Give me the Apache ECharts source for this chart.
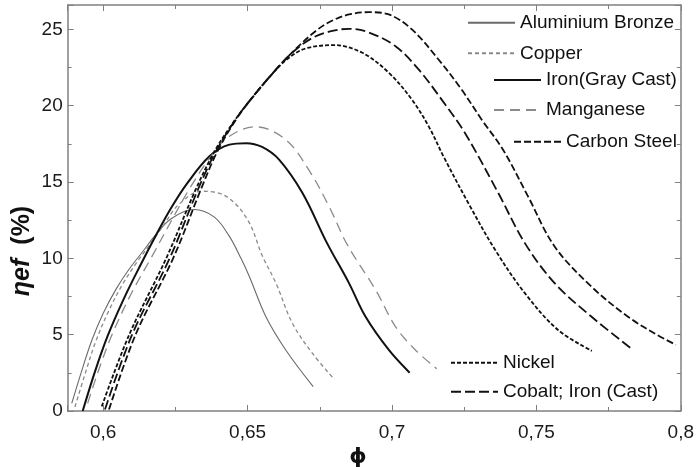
<!DOCTYPE html>
<html>
<head>
<meta charset="utf-8">
<script src="https://cdn.jsdelivr.net/npm/echarts@6/dist/echarts.min.js"></script>
<style>
  html, body { margin: 0; padding: 0; background: #fff; }
  #chart { width: 697px; height: 467px; }
</style>
</head>
<body>
<div id="chart"></div>
<script>
// curves, [phi, eta_ef %]
const alBronze = [
  [0.5891, 0.5], [0.5925, 2.6], [0.596, 4.6], [0.6, 6.4], [0.6045, 8.0], [0.609, 9.3],
  [0.6135, 10.4], [0.618, 11.5], [0.6235, 12.6], [0.6315, 13.2], [0.6385, 12.7],
  [0.6437, 11.44], [0.6477, 10.0], [0.6506, 8.81], [0.6563, 6.19], [0.6632, 4.0], [0.6727, 1.6]
];
const copper = [
  [0.5902, 0.26], [0.5935, 2.3], [0.5975, 4.6], [0.602, 6.6], [0.607, 8.4], [0.6115, 9.7],
  [0.6165, 11.0], [0.621, 12.2], [0.626, 13.5], [0.634, 14.4], [0.6426, 14.06],
  [0.65, 12.53], [0.6552, 10.12], [0.6598, 8.38], [0.6655, 5.75], [0.6724, 3.79], [0.6799, 2.1]
];
const ironGray = [
  [0.5929, 0], [0.597, 2.5], [0.6015, 4.9], [0.607, 7.3], [0.613, 9.6], [0.6185, 11.6],
  [0.6235, 13.3], [0.629, 14.9], [0.6368, 16.69], [0.6437, 17.45], [0.6495, 17.55],
  [0.655, 17.3], [0.6609, 16.47], [0.669, 14.28], [0.6775, 11.0], [0.6851, 8.38],
  [0.6908, 6.19], [0.6989, 4.0], [0.7061, 2.51]
];
const manganese = [
  [0.5946, 0.5], [0.599, 3], [0.6035, 5.2], [0.61, 7.8], [0.6165, 10], [0.624, 12.6],
  [0.63, 14.6], [0.637, 16.6], [0.6437, 18.0], [0.6527, 18.62], [0.6632, 17.78],
  [0.6715, 15.7], [0.6782, 13.4], [0.6845, 10.9], [0.6943, 7.94], [0.7012, 5.53],
  [0.7081, 4.0], [0.7155, 2.76]
];
const carbonSteel = [
  [0.602, 0.1], [0.6112, 5], [0.6242, 10], [0.634, 14.6], [0.6395, 17.0], [0.646, 19.1],
  [0.6515, 20.5], [0.6595, 22.3], [0.666, 23.6], [0.6736, 24.9], [0.679, 25.55],
  [0.6851, 25.98], [0.692, 26.13], [0.6989, 25.98], [0.7069, 25.0], [0.7161, 23.03],
  [0.7241, 21.06], [0.731, 19.1], [0.7385, 17.1], [0.7471, 14.06], [0.7563, 10.78],
  [0.769, 8.16], [0.7816, 6.19], [0.7908, 5.1], [0.7983, 4.33]
];
const nickel = [
  [0.5995, 0.3], [0.609, 5], [0.6218, 10], [0.632, 14.5], [0.6385, 17.0], [0.645, 18.9],
  [0.6506, 20.3], [0.6586, 22.1], [0.664, 23.1], [0.67, 23.75], [0.68, 23.97],
  [0.6897, 23.47], [0.6989, 22.16], [0.7069, 20.4], [0.7127, 18.65], [0.7178, 16.69],
  [0.7264, 13.63], [0.7357, 10.56], [0.746, 7.72], [0.7575, 5.31], [0.7692, 3.94]
];
const cobaltIron = [
  [0.6006, 0.1], [0.61, 5], [0.623, 10], [0.633, 14.6], [0.639, 17.0], [0.6455, 19.0],
  [0.651, 20.4], [0.659, 22.2], [0.665, 23.4], [0.672, 24.4], [0.6782, 24.85],
  [0.6851, 25.04], [0.692, 24.8], [0.7012, 23.9], [0.7092, 22.38], [0.7172, 20.4],
  [0.7253, 18.2], [0.7368, 14.28], [0.746, 11.0], [0.7563, 8.38], [0.769, 6.19],
  [0.783, 4.07]
];

const names = ['Aluminium Bronze', 'Copper', 'Iron(Gray Cast)', 'Manganese', 'Carbon Steel', 'Nickel', 'Cobalt; Iron (Cast)'];
const curves = [alBronze, copper, ironGray, manganese, carbonSteel, nickel, cobaltIron];

const styles = [
  { color: '#6a6a6a', width: 1.1, type: 'solid' },
  { color: '#8a8a8a', width: 1.3, type: [4, 3] },
  { color: '#111111', width: 2, type: 'solid' },
  { color: '#8a8a8a', width: 1.3, type: [10, 6] },
  { color: '#111111', width: 1.8, type: [7, 3] },
  { color: '#111111', width: 1.8, type: [4, 2] },
  { color: '#111111', width: 1.8, type: [10, 4] }
];
// legend anchors: [left, vertical centre]
const legendPos = [[467, 22.7], [467, 53.3], [493, 80], [493, 110], [513, 141.7], [450, 362.7], [450, 391.7]];

const axisGray = '#808080';
const fontFam = '"Liberation Sans", Arial, sans-serif';

var myChart = echarts.init(document.getElementById('chart'), null, { renderer: 'canvas' });

const fmtX = (v) => {
  if (Math.abs(v * 20 - Math.round(v * 20)) > 1e-6) return '';
  return String(+v.toFixed(2)).replace('.', ',');
};
const fmtY = (v) => (Math.abs(v / 5 - Math.round(v / 5)) > 1e-6 ? '' : String(Math.round(v)));

const baseAxis = {
  type: 'value',
  axisLine: { show: true, onZero: false, lineStyle: { color: axisGray, width: 1.5 } },
  axisTick: { show: true, inside: true, length: 6, lineStyle: { color: axisGray, width: 1 } },
  minorTick: { show: true, splitNumber: 2, length: 4, lineStyle: { color: axisGray, width: 1 } },
  splitLine: { show: false },
  minorSplitLine: { show: false }
};

const option = {
  animation: false,
  backgroundColor: '#fff',
  grid: { left: 67.7, right: 14, top: 5, bottom: 56, containLabel: false },
  xAxis: [
    Object.assign({}, baseAxis, {
      min: 0.5877, max: 0.8, position: 'bottom',
      axisLabel: { margin: 12, color: '#1a1a1a', fontSize: 19, fontFamily: fontFam, formatter: fmtX }
    }),
    Object.assign({}, baseAxis, {
      min: 0.5877, max: 0.8, position: 'top',
      axisLabel: { show: false }
    })
  ],
  yAxis: [
    Object.assign({}, baseAxis, {
      min: 0, max: 26.6, position: 'left',
      axisLabel: { margin: 5, color: '#1a1a1a', fontSize: 19, fontFamily: fontFam, formatter: fmtY }
    }),
    Object.assign({}, baseAxis, {
      min: 0, max: 26.6, position: 'right',
      axisLabel: { show: false }
    })
  ],
  legend: names.map((n, i) => ({
    data: [n],
    left: legendPos[i][0],
    top: legendPos[i][1] - 10,
    padding: 0,
    itemWidth: 47,
    itemHeight: 12,
    selectedMode: false,
    itemStyle: { opacity: 0, borderWidth: 0 },
    textStyle: { color: '#111', fontSize: 19, lineHeight: 20, fontFamily: fontFam }
  })),
  graphic: [
    {
      type: 'text',
      x: 22, y: 251,
      rotation: Math.PI / 2,
      style: {
        text: '{i|ηef}{s| }{b|(%)}',
        align: 'center', verticalAlign: 'middle',
        rich: {
          i: { fontSize: 25, fontWeight: 'bold', fontStyle: 'italic', fontFamily: fontFam, fill: '#111' },
          s: { fontSize: 25, width: 14 },
          b: { fontSize: 25, fontWeight: 'bold', fontFamily: fontFam, fill: '#111' }
        }
      }
    },
    {
      type: 'text',
      x: 358, y: 457,
      style: {
        text: 'ϕ', align: 'center', verticalAlign: 'middle',
        fontSize: 22, fontWeight: 'bold', fontFamily: '"DejaVu Sans", sans-serif', fill: '#111'
      }
    }
  ],
  series: curves.map((d, i) => ({
    name: names[i],
    type: 'line',
    data: d,
    smooth: 0.35,
    symbol: 'none',
    showSymbol: false,
    lineStyle: styles[i],
    itemStyle: { color: styles[i].color }
  }))
};
myChart.setOption(option);
</script>
</body>
</html>
